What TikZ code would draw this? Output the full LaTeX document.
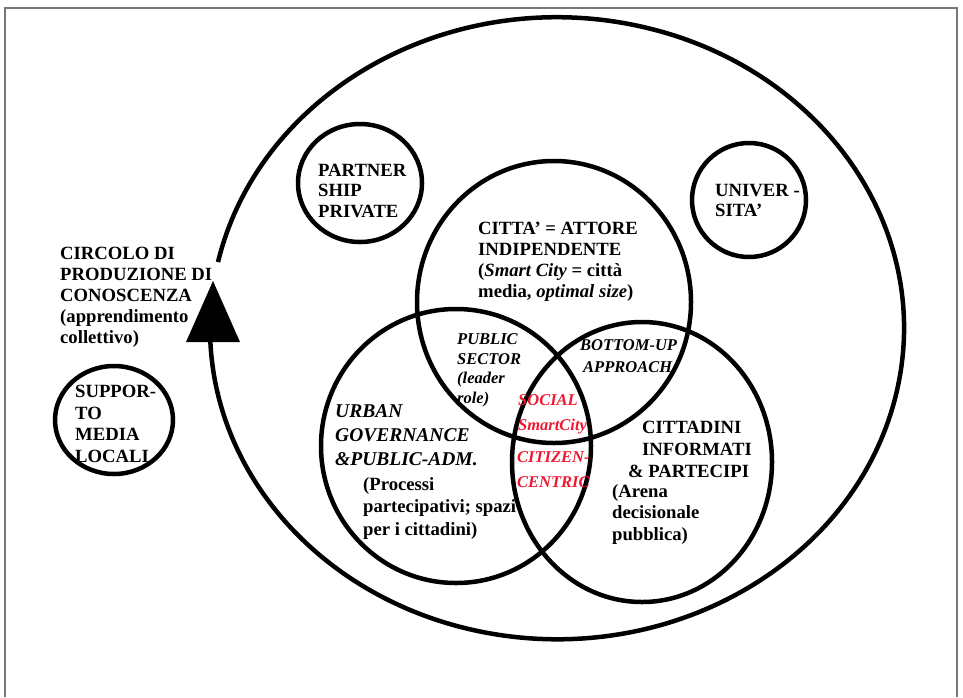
\documentclass[tikz,border=0pt]{standalone}
\usepackage{fontspec}
\setmainfont{Liberation Serif}
\definecolor{redtxt}{RGB}{238,24,48}
\definecolor{framegray}{RGB}{120,120,120}
\begin{document}
\begin{tikzpicture}[x=1pt,y=-1pt,
  ring/.style={line width=4.5pt},
  bt/.style={inner sep=0pt, anchor=base west, align=left, font=\bfseries\fontsize{18.67}{21}\selectfont},
  bit/.style={bt, font=\bfseries\itshape\fontsize{16.5}{19.5}\selectfont},
  rit/.style={bt, text=redtxt, font=\bfseries\itshape\fontsize{16.5}{24.5}\selectfont},
  ubit/.style={bt, font=\bfseries\itshape\fontsize{19.5}{24}\selectfont}]
\useasboundingbox (0,0) rectangle (963,697);
% frame
\draw[framegray, line width=1.2pt] (5,697) -- (5,8) -- (957,8) -- (957,697);
% big circle with arrow
\draw[ring] (218,262) arc[start angle=192.3, end angle=538.7, x radius=347, y radius=311];
\fill (213,281) -- (186,342) -- (240,342) -- cycle;
% small circles
\draw[ring] (360,183) ellipse[x radius=62, y radius=59];
\draw[ring] (749,200) circle[radius=57];
\draw[ring] (114,420) ellipse[x radius=59, y radius=54];
% venn circles
\draw[ring] (554,302) ellipse[x radius=137, y radius=141];
\draw[ring] (456,446) ellipse[x radius=135, y radius=137];
\draw[ring] (642,462) ellipse[x radius=130, y radius=140];
% texts (anchor = baseline of the last line)
\node[bt] (circolo) at (60,343) {CIRCOLO DI\\PRODUZIONE DI\\CONOSCENZA\\(apprendimento\\collettivo)};
\node[bt, font=\bfseries\fontsize{18.67}{21.5}\selectfont] (supporto) at (75,462) {SUPPOR-\\TO\\MEDIA\\LOCALI};
\node[bt, font=\bfseries\fontsize{18.67}{20.5}\selectfont] (partner) at (318,217) {PARTNER\\SHIP\\PRIVATE};
\node[bt, font=\bfseries\fontsize{18.67}{19.5}\selectfont] (univ) at (715,216) {UNIVER -\\SITA'};
\node[bt] (citta) at (478,297) {CITTA' = ATTORE\\INDIPENDENTE\\(\textit{Smart City} = città\\media, \textit{optimal size})};
\node[bit] (public) at (457,403) {PUBLIC\\SECTOR\\(leader\\role)};
\node[bit, font=\bfseries\itshape\fontsize{16.5}{22}\selectfont] (bottom) at (580,372) {BOTTOM-UP\\\hspace{3pt}APPROACH};
\node[rit] (social) at (518,430) {SOCIAL\\SmartCity};
\node[rit] (citizen) at (517,487) {CITIZEN-\\CENTRIC};
\node[ubit] (urban) at (335,465) {URBAN\\GOVERNANCE\\\&PUBLIC-ADM.};
\node[bt, font=\bfseries\fontsize{18.67}{22.5}\selectfont] (processi) at (363,535) {(Processi\\partecipativi; spazi\\per i cittadini)};
\node[bt, font=\bfseries\fontsize{18.67}{22}\selectfont] (cittadini) at (628,477) {\hspace{14pt}CITTADINI\\\hspace{14pt}INFORMATI\\\& PARTECIPI};
\node[bt, font=\bfseries\fontsize{18.67}{21.5}\selectfont] (arena) at (612,540) {(Arena\\decisionale\\pubblica)};
\end{tikzpicture}
\end{document}
